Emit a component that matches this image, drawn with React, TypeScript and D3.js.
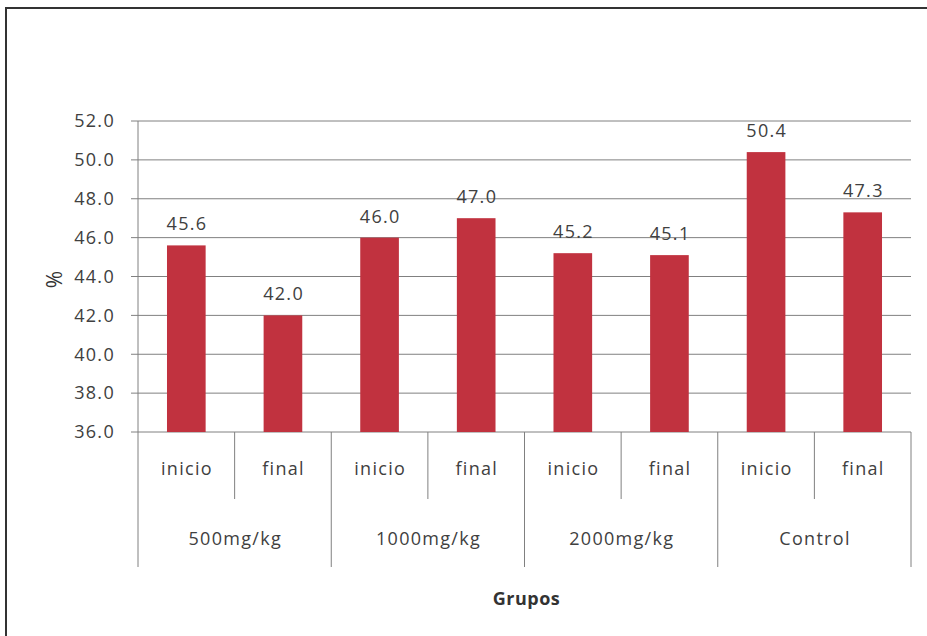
import React, { useEffect, useRef } from "react";
import * as d3 from "d3";

const groups = ["500mg/kg", "1000mg/kg", "2000mg/kg", "Control"];
const phases = ["inicio", "final"];
const values = [45.6, 42.0, 46.0, 47.0, 45.2, 45.1, 50.4, 47.3];
const yTicks = [36, 38, 40, 42, 44, 46, 48, 50, 52];

const FONT = "'Open Sans', 'Noto Sans', sans-serif";
const LS = 1.3; // the original text is a bit wider than Open Sans

const App: React.FC = () => {
  const svgRef = useRef<SVGSVGElement>(null);

  useEffect(() => {
    const W = 927;
    const H = 636;
    const margin = { top: 121, left: 138, right: 16 };
    const plotBottom = 432;

    const svg = d3.select(svgRef.current);
    svg.selectAll("*").remove();

    // chart frame (runs off the right and bottom edges)
    svg
      .append("rect")
      .attr("x", 6)
      .attr("y", 8)
      .attr("width", W + 20)
      .attr("height", H + 20)
      .attr("fill", "white")
      .attr("stroke", "#333")
      .attr("stroke-width", 2);

    const cats = groups.flatMap((g) => phases.map((p) => `${g}|${p}`));
    const data = cats.map((c, i) => ({ key: c, value: values[i] }));

    const x = d3
      .scaleBand()
      .domain(cats)
      .range([margin.left, W - margin.right])
      .paddingInner(0.6)
      .paddingOuter(0.3);
    const step = x.step();

    const y = d3.scaleLinear().domain([36, 52]).range([plotBottom, margin.top]);

    const label = (sel: d3.Selection<SVGTextElement, any, any, any>) =>
      sel
        .attr("font-family", FONT)
        .attr("font-size", 18)
        .attr("letter-spacing", LS)
        .attr("fill", "#404040");

    // gridlines
    svg
      .append("g")
      .selectAll("line")
      .data(yTicks)
      .enter()
      .append("line")
      .attr("x1", margin.left - 7)
      .attr("x2", W - margin.right)
      .attr("y1", (d) => y(d))
      .attr("y2", (d) => y(d))
      .attr("stroke", "#808080")
      .attr("stroke-width", 1);

    // y tick labels
    svg
      .append("g")
      .selectAll("text")
      .data(yTicks)
      .enter()
      .append("text")
      .attr("x", 115)
      .attr("y", (d) => y(d))
      .attr("dy", "0.35em")
      .attr("text-anchor", "end")
      .call(label)
      .text((d) => d.toFixed(1));

    // y axis line
    svg
      .append("line")
      .attr("x1", margin.left)
      .attr("x2", margin.left)
      .attr("y1", margin.top)
      .attr("y2", plotBottom)
      .attr("stroke", "#808080");

    // bars
    svg
      .append("g")
      .selectAll("rect")
      .data(data)
      .enter()
      .append("rect")
      .attr("x", (d) => x(d.key)!)
      .attr("y", (d) => y(d.value))
      .attr("width", x.bandwidth())
      .attr("height", (d) => plotBottom - y(d.value))
      .attr("fill", "#C1323F");

    // value labels
    svg
      .append("g")
      .selectAll("text")
      .data(data)
      .enter()
      .append("text")
      .attr("x", (d) => x(d.key)! + x.bandwidth() / 2 + LS / 2)
      .attr("y", (d) => y(d.value) - 15)
      .attr("text-anchor", "middle")
      .call(label)
      .text((d) => d.value.toFixed(1));

    // category axis separators
    const sep = svg.append("g").attr("stroke", "#808080").attr("stroke-width", 1);
    cats.forEach((c, i) => {
      const left = x(c)! - (step - x.bandwidth()) / 2;
      const isGroupEdge = i % phases.length === 0;
      sep
        .append("line")
        .attr("x1", left)
        .attr("x2", left)
        .attr("y1", plotBottom)
        .attr("y2", isGroupEdge ? 567 : 499);
    });
    sep
      .append("line")
      .attr("x1", W - margin.right)
      .attr("x2", W - margin.right)
      .attr("y1", plotBottom)
      .attr("y2", 567);

    // phase labels
    svg
      .append("g")
      .selectAll("text")
      .data(cats)
      .enter()
      .append("text")
      .attr("x", (d) => x(d)! + x.bandwidth() / 2 + LS / 2)
      .attr("y", 469)
      .attr("dy", "0.35em")
      .attr("text-anchor", "middle")
      .call(label)
      .text((d) => d.split("|")[1]);

    // group labels
    svg
      .append("g")
      .selectAll("text")
      .data(groups)
      .enter()
      .append("text")
      .attr("x", (g) => {
        const a = x(`${g}|${phases[0]}`)!;
        const b = x(`${g}|${phases[phases.length - 1]}`)!;
        return (a + b + x.bandwidth()) / 2 + LS / 2;
      })
      .attr("y", 539)
      .attr("dy", "0.35em")
      .attr("text-anchor", "middle")
      .call(label)
      .text((g) => g);

    // axis titles
    svg
      .append("text")
      .attr("x", (margin.left + W - margin.right) / 2 + 2)
      .attr("y", 599)
      .attr("dy", "0.35em")
      .attr("text-anchor", "middle")
      .attr("font-family", FONT)
      .attr("font-size", 18)
      .attr("letter-spacing", 0.5)
      .attr("font-weight", "bold")
      .attr("fill", "#333")
      .text("Grupos");

    svg
      .append("text")
      .attr("transform", `translate(55,${(margin.top + plotBottom) / 2 + 3}) rotate(-90)`)
      .attr("dy", "0.35em")
      .attr("text-anchor", "middle")
      .attr("font-family", FONT)
      .attr("font-size", 21)
      .attr("fill", "#333")
      .text("%");
  }, []);

  return (
    <svg
      ref={svgRef}
      width={927}
      height={636}
      style={{ position: "absolute", left: 0, top: 0, background: "white" }}
    ></svg>
  );
};

export default App;
